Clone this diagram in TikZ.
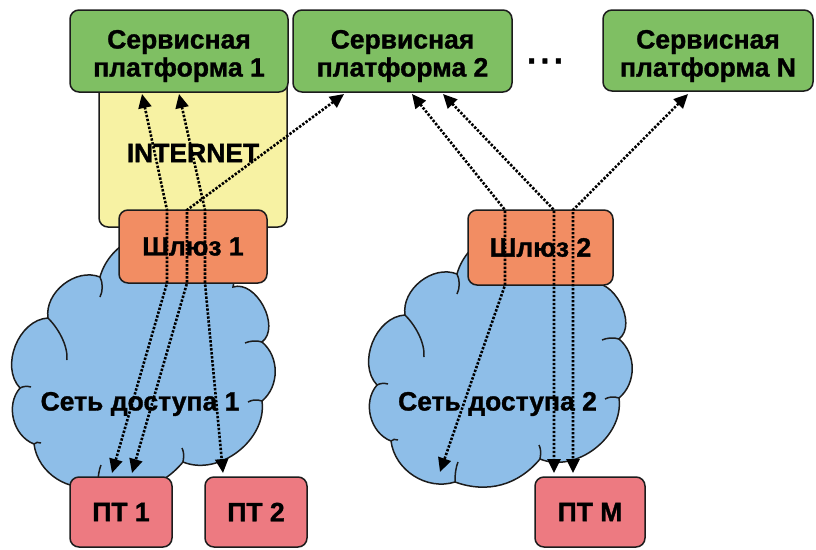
\documentclass[tikz,border=0pt]{standalone}
\usepackage{fontspec}
\setmainfont{Liberation Sans}[BoldFeatures={FakeBold=1.2}]
\usetikzlibrary{arrows.meta,calc}
\definecolor{cgreen}{RGB}{127,191,99}
\definecolor{cyellow}{RGB}{247,242,163}
\definecolor{corange}{RGB}{242,141,99}
\definecolor{cblue}{RGB}{142,190,232}
\definecolor{cpink}{RGB}{237,122,129}
\definecolor{cline}{RGB}{28,28,28}
\newcommand\cloudshape{%
  (100,277) to[bend left=50] (185,238) to[bend left=60] (233,287)
  to[bend left=80] (262,342) to[bend left=50] (262,401)
  to[bend left=60] (183,462) to[bend left=35] (98,485)
  to[bend left=50] (34,444) to[bend left=55] (20,388)
  to[bend left=65] (48,318) to[bend left=60] (100,277) -- cycle}
\newcommand\cloudhooks{%
  \draw[hook] (100,277) .. controls (103,283) and (103,291) .. (100,297);
  \draw[hook] (48,318) .. controls (58,328) and (68,345) .. (67,360);
  \draw[hook] (20,388) .. controls (24,386) and (27,386) .. (31,387);
  \draw[hook] (34,444) .. controls (36,442) and (38,442) .. (41,443);
  \draw[hook] (262,342) .. controls (256,340) and (250,341) .. (245,343);
  \draw[hook] (262,401) .. controls (256,399) and (252,400) .. (248,402);
  \draw[hook] (183,462) .. controls (184,456) and (184,452) .. (182,448);
  \draw[hook] (98,485) .. controls (98,476) and (99,470) .. (101,465);}
\begin{document}
\begin{tikzpicture}[x=1pt,y=-1pt,
  box/.style={draw=cline, line width=1.5pt, rounded corners=9pt, inner sep=0pt,
    font=\fontsize{26.5}{28}\selectfont\bfseries, align=center},
  lbl/.style={inner sep=0pt, font=\fontsize{26.5}{28}\selectfont\bfseries, align=center},
  cloudfill/.style={fill=cblue, draw=cline, line width=1.5pt},
  hook/.style={draw=cline, line width=1.5pt},
  flow/.style={draw=black, line width=2.6pt, dash pattern=on 2.4pt off 1.6pt,
    {Triangle[length=14pt,width=13pt]}-{Triangle[length=14pt,width=13pt]}}]
\useasboundingbox (0,0) rectangle (816,549);
% internet
\node[box, fill=cyellow, minimum width=188, minimum height=157] (inet) at (193,148.5) {};
% platforms
\node[box, fill=cgreen, minimum width=218, minimum height=82] (p1) at (179,51) {};
\node[box, fill=cgreen, minimum width=219, minimum height=82] (p2) at (402.5,51) {};
\node[box, fill=cgreen, minimum width=210, minimum height=81] (pN) at (708,50.5) {};
\node[lbl] (p1t) at (179,56) {Сервисная\\платформа 1};
\node[lbl] (p2t) at (402.5,56) {Сервисная\\платформа 2};
\node[lbl] (pNt) at (708,56) {Сервисная\\платформа N};
\node[inner sep=0pt, font=\fontsize{32}{36}\selectfont\bfseries] (dots) at (545,61) {.\hspace{4.5pt}.\hspace{4.5pt}.};
% clouds
\path[cloudfill] \cloudshape;
\cloudhooks
\begin{scope}[shift={(357,-3)}]
\path[cloudfill] \cloudshape;
\cloudhooks
\end{scope}
% gateways
\node[box, fill=corange, minimum width=148, minimum height=73] (gw1) at (193,246.5) {Шлюз 1};
\node[box, fill=corange, minimum width=145, minimum height=75] (gw2) at (540.5,247.5) {Шлюз 2};
% terminals
\node[box, fill=cpink, minimum width=102, minimum height=70] (t1) at (121,512) {ПТ 1};
\node[box, fill=cpink, minimum width=102, minimum height=70] (t2) at (256,512) {ПТ 2};
\node[box, fill=cpink, minimum width=110, minimum height=70] (tM) at (590,512) {ПТ M};
% labels
\node[lbl] (inett) at (193,153) {INTERNET};
\node[lbl] (n1t) at (140,404) {Сеть доступа 1};
\node[lbl] (n2t) at (497.5,404) {Сеть доступа 2};
% waypoints
\coordinate (a1) at (142,94); \coordinate (a2) at (167,210); \coordinate (a3) at (167,283); \coordinate (a4) at (112,473);
\coordinate (b1) at (344,94); \coordinate (b2) at (187,210); \coordinate (b3) at (187,283); \coordinate (b4) at (132,473);
\coordinate (c1) at (179,94); \coordinate (c2) at (205,210); \coordinate (c3) at (205,283); \coordinate (c4) at (223,473);
\coordinate (d1) at (412,94); \coordinate (d2) at (505,210); \coordinate (d3) at (505,285); \coordinate (d4) at (440,472);
\coordinate (e1) at (443,94); \coordinate (e2) at (554,210); \coordinate (e3) at (554,285); \coordinate (e4) at (554,473);
\coordinate (f1) at (688,94); \coordinate (f2) at (573,210); \coordinate (f3) at (573,285); \coordinate (f4) at (573,473);
% flows
\draw[flow] (a1) -- (a2) -- (a3) -- (a4);
\draw[flow] (b1) -- (b2) -- (b3) -- (b4);
\draw[flow] (c1) -- (c2) -- (c3) -- (c4);
\draw[flow] (d1) -- (d2) -- (d3) -- (d4);
\draw[flow] (e1) -- (e2) -- (e3) -- (e4);
\draw[flow] (f1) -- (f2) -- (f3) -- (f4);
\end{tikzpicture}
\end{document}
